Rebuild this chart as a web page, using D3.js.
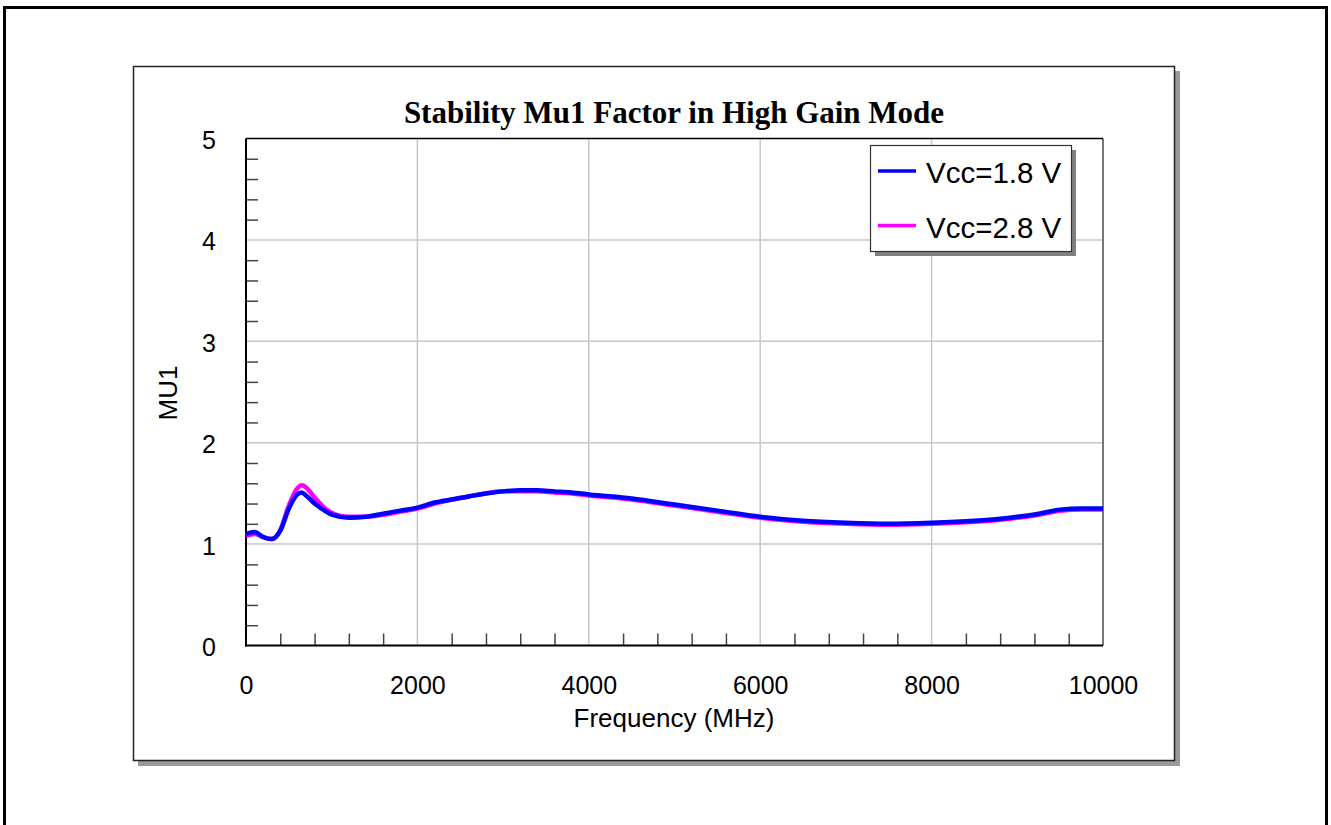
<!DOCTYPE html>
<html>
<head>
<meta charset="utf-8">
<script src="https://cdn.jsdelivr.net/npm/d3@7"></script>
<style>
  body { margin: 0; background: #fff; }
  text { font-family: Arial, "Liberation Sans", sans-serif; }
</style>
</head>
<body>
<div id="chart"></div>
<script>
// data
var freq = [0, 100, 200, 300, 400, 500, 600, 650, 700, 800, 900, 1000, 1200, 1400, 1600, 1800, 2000,
  2200, 2400, 2600, 2800, 3000, 3200, 3400, 3600, 3800, 4000, 4500, 5000, 5500, 6000, 6500, 7000,
  7500, 8000, 8500, 8800, 9000, 9250, 9500, 9750, 10000];
var vcc18 = [1.10, 1.12, 1.07, 1.05, 1.13, 1.35, 1.49, 1.51, 1.48, 1.40, 1.34, 1.29, 1.26, 1.27, 1.30, 1.33, 1.36,
  1.41, 1.44, 1.47, 1.50, 1.52, 1.53, 1.53, 1.52, 1.51, 1.49, 1.45, 1.39, 1.33, 1.27, 1.23, 1.21,
  1.20, 1.21, 1.23, 1.25, 1.27, 1.30, 1.34, 1.35, 1.35];
var vcc28 = [1.08, 1.10, 1.07, 1.05, 1.14, 1.38, 1.55, 1.58, 1.56, 1.46, 1.37, 1.31, 1.27, 1.27, 1.29, 1.32, 1.35,
  1.40, 1.44, 1.47, 1.50, 1.52, 1.52, 1.52, 1.51, 1.50, 1.48, 1.44, 1.38, 1.32, 1.26, 1.22, 1.20,
  1.19, 1.20, 1.22, 1.24, 1.26, 1.29, 1.33, 1.34, 1.34];
var seriesNames = ['Vcc=1.8 V', 'Vcc=2.8 V'];
var seriesColors = ['#0000ff', '#ff00ff'];
var xTicks = [0, 2000, 4000, 6000, 8000, 10000];
var yTicks = [0, 1, 2, 3, 4, 5];

var W = 1331, H = 825;
var plot = { x0: 246, x1: 1103, y0: 138.5, y1: 645.5 };

var svg = d3.select('#chart').append('svg')
  .attr('width', W)
  .attr('height', H);

// outer page border
svg.append('rect')
  .attr('x', 4.5).attr('y', 7.5)
  .attr('width', 1322).attr('height', 900)
  .attr('fill', 'none').attr('stroke', '#000').attr('stroke-width', 3);

// chart frame with shadow
svg.append('rect')
  .attr('x', 138).attr('y', 71)
  .attr('width', 1042).attr('height', 695)
  .attr('fill', '#999');
svg.append('rect')
  .attr('x', 133.5).attr('y', 66.5)
  .attr('width', 1041).attr('height', 694)
  .attr('fill', '#fff').attr('stroke', '#222').attr('stroke-width', 1.5);

var x = d3.scaleLinear().domain([0, 10000]).range([plot.x0, plot.x1]);
var y = d3.scaleLinear().domain([0, 5]).range([plot.y1, plot.y0]);

// grid
var grid = svg.append('g');
grid.selectAll('.vg').data(xTicks.slice(1, -1)).enter().append('line')
  .attr('x1', d => x(d)).attr('x2', d => x(d))
  .attr('y1', plot.y0).attr('y2', plot.y1)
  .attr('stroke', '#c8c8c8').attr('stroke-width', 1.5);
grid.selectAll('.hg').data(yTicks.slice(1, -1)).enter().append('line')
  .attr('x1', plot.x0).attr('x2', plot.x1)
  .attr('y1', d => y(d)).attr('y2', d => y(d))
  .attr('stroke', '#c8c8c8').attr('stroke-width', 1.5);

// right edge (gray) and top edge
svg.append('line')
  .attr('x1', plot.x1).attr('x2', plot.x1)
  .attr('y1', plot.y0).attr('y2', plot.y1)
  .attr('stroke', '#777').attr('stroke-width', 2);
svg.append('line')
  .attr('x1', plot.x0).attr('x2', plot.x1)
  .attr('y1', plot.y0).attr('y2', plot.y0)
  .attr('stroke', '#000').attr('stroke-width', 1.5);

// minor ticks, inside
var yMinor = d3.range(0.2, 5, 0.2).filter(d => Math.abs(d - Math.round(d)) > 0.01);
var xMinor = d3.range(400, 10000, 400).filter(d => d % 2000 !== 0);

svg.append('g')
  .attr('transform', `translate(${plot.x0},0)`)
  .call(d3.axisLeft(y).tickValues(yMinor).tickSizeInner(-12).tickSizeOuter(0).tickFormat(''))
  .call(g => g.select('.domain').remove())
  .call(g => g.selectAll('line').attr('stroke', '#444').attr('stroke-width', 1.5));

svg.append('g')
  .attr('transform', `translate(0,${plot.y1})`)
  .call(d3.axisBottom(x).tickValues(xMinor).tickSizeInner(-12).tickSizeOuter(0).tickFormat(''))
  .call(g => g.select('.domain').remove())
  .call(g => g.selectAll('line').attr('stroke', '#444').attr('stroke-width', 1.5));

// major labels
svg.append('g')
  .attr('transform', `translate(${plot.x0},0)`)
  .call(d3.axisLeft(y).tickValues(yTicks).tickSize(0).tickPadding(30).tickFormat(d3.format('d')))
  .call(g => g.select('.domain').remove())
  .call(g => g.selectAll('text').attr('font-size', 25).attr('fill', '#000').attr('dy', '0.4em')
    .style('font-family', 'Arial, "Liberation Sans", sans-serif'));

svg.append('g')
  .attr('transform', `translate(0,${plot.y1})`)
  .call(d3.axisBottom(x).tickValues(xTicks).tickSize(0).tickPadding(31).tickFormat(d3.format('d')))
  .call(g => g.select('.domain').remove())
  .call(g => g.selectAll('text').attr('font-size', 25).attr('fill', '#000')
    .style('font-family', 'Arial, "Liberation Sans", sans-serif'));

// axis lines
svg.append('line')
  .attr('x1', plot.x0).attr('x2', plot.x0)
  .attr('y1', plot.y0).attr('y2', plot.y1 + 1)
  .attr('stroke', '#000').attr('stroke-width', 2);
svg.append('line')
  .attr('x1', plot.x0 - 1).attr('x2', plot.x1)
  .attr('y1', plot.y1).attr('y2', plot.y1)
  .attr('stroke', '#000').attr('stroke-width', 2);

// series
var line = d3.line()
  .x(d => x(d[0]))
  .y(d => y(d[1]))
  .curve(d3.curveMonotoneX);

var series = [vcc28, vcc18];
var colors = [seriesColors[1], seriesColors[0]];
series.forEach(function (vals, i) {
  svg.append('path')
    .datum(freq.map((f, j) => [f, vals[j]]))
    .attr('d', line)
    .attr('fill', 'none')
    .attr('stroke', colors[i])
    .attr('stroke-width', 4.5)
    .attr('stroke-linejoin', 'round');
});

// titles
svg.append('text')
  .attr('x', 674).attr('y', 123)
  .attr('text-anchor', 'middle')
  .style('font-family', '"Liberation Serif", "Times New Roman", serif')
  .style('font-weight', 'bold')
  .style('font-size', '31px')
  .text('Stability Mu1 Factor in High Gain Mode');

svg.append('text')
  .attr('x', 674).attr('y', 727)
  .attr('text-anchor', 'middle')
  .style('font-size', '26px')
  .text('Frequency (MHz)');

svg.append('text')
  .attr('transform', 'translate(177,393) rotate(-90)')
  .attr('text-anchor', 'middle')
  .style('font-size', '26px')
  .text('MU1');

// legend
var legend = svg.append('g').attr('transform', 'translate(870,145)');
legend.append('rect')
  .attr('x', 5).attr('y', 5)
  .attr('width', 201).attr('height', 106)
  .attr('fill', '#808080');
legend.append('rect')
  .attr('x', 0.5).attr('y', 0.5)
  .attr('width', 201).attr('height', 106)
  .attr('fill', '#fff').attr('stroke', '#333').attr('stroke-width', 1.2);

seriesNames.forEach(function (name, i) {
  var g = legend.append('g').attr('transform', `translate(0,${26 + i * 54.5})`);
  g.append('line')
    .attr('x1', 8).attr('x2', 46)
    .attr('y1', 0).attr('y2', 0)
    .attr('stroke', seriesColors[i]).attr('stroke-width', 3.5);
  g.append('text')
    .attr('x', 56).attr('y', 12)
    .style('font-size', '29.5px')
    .text(name);
});
</script>
</body>
</html>
